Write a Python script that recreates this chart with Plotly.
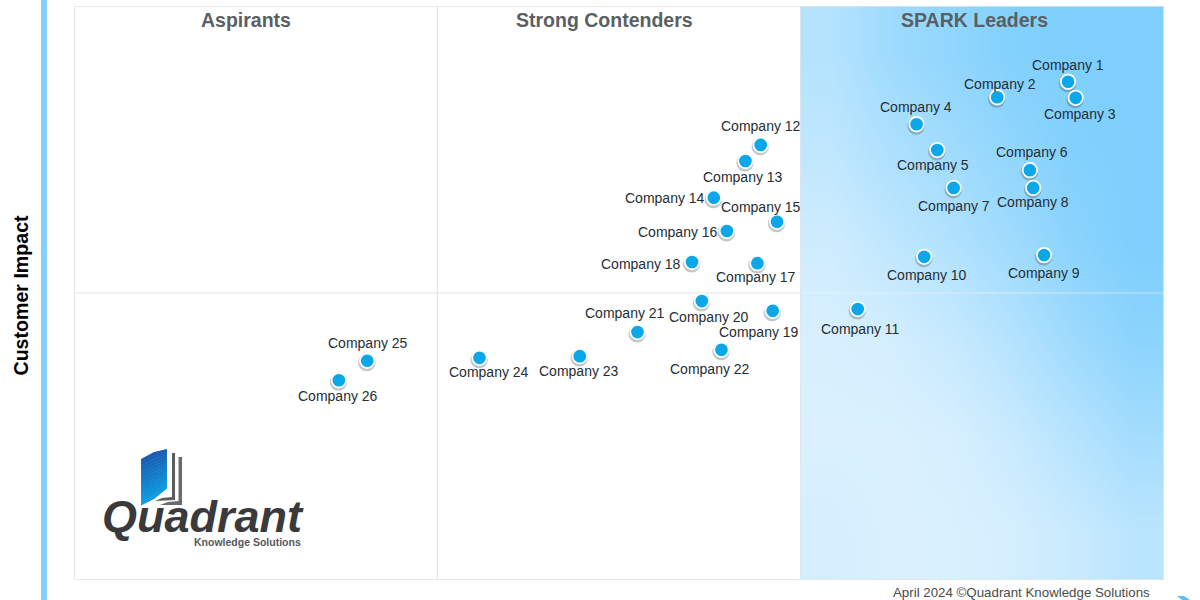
import plotly.graph_objects as go

# ---- data (0-100 scale on both axes) ----
companies = [f"Company {i}" for i in range(1, 27)]
completeness = [91.2, 84.7, 91.9, 77.3, 79.2, 87.7, 80.7, 88.0, 89.0, 78.0, 71.9, 63.0, 61.6,
                58.7, 64.5, 59.9, 62.7, 56.7, 64.1, 57.6, 51.7, 59.4, 46.4, 37.2, 26.9, 24.3]
impact = [86.8, 84.1, 84.0, 79.4, 74.9, 71.4, 68.3, 68.3, 56.6, 56.3, 47.2, 75.8, 73.0,
          66.6, 62.4, 60.8, 55.2, 55.4, 46.9, 48.6, 43.2, 40.1, 39.0, 38.7, 38.2, 34.8]
label_dx = [0, 3, 4, -1, -4, 2, 0, 0, 0, 3, 3, 0, -2, -49, -16, -49, -1, -51, -14, 7, -13, -11, -1, 10, 1, -1]
label_dy = [-17, -13, 16, -17, 15, -18, 18, 14, 18, 18, 20, -19, 16, 0, -15, 1, 14, 2, 21, 16, -19, 19, 15, 14, -18, 16]
quadrants = ["Aspirants", "Strong Contenders", "SPARK Leaders"]
quadrant_x = [15.8, 48.7, 82.6]
leader_shade = [
    [0.42, 0.66, 0.80, 0.95, 1.00, 1.00],
    [0.30, 0.50, 0.64, 0.80, 0.96, 1.00],
    [0.14, 0.30, 0.46, 0.64, 0.86, 1.00],
    [0.05, 0.09, 0.22, 0.42, 0.66, 0.85],
    [0.02, 0.02, 0.06, 0.20, 0.40, 0.60],
    [0.08, 0.02, 0.03, 0.08, 0.20, 0.36],
]
y_title = "Customer Impact"
footer = "April 2024 ©Quadrant Knowledge Solutions"

W, H = 1200, 600
L, R, T, B = 74, 1164, 6, 580
FONT = "Liberation Sans"


def fx(p):
    return (p - L) / (R - L)


def fy(p):
    return (B - p) / (B - T)


def path(points):
    return "M " + " L ".join(f"{fx(a):.4f},{fy(b):.4f}" for a, b in points) + " Z"


fig = go.Figure()

fig.add_trace(go.Heatmap(
    z=leader_shade[::-1], x0=200 / 3 + 100 / 36, dx=100 / 18, y0=100 / 12, dy=100 / 6,
    zsmooth="best", showscale=False, hoverinfo="skip", zmin=0, zmax=1,
    colorscale=[[0, "#DCF1FE"], [1, "#7ECFFD"]],
))

fig.add_trace(go.Scatter(
    x=[v - 0.04 for v in completeness], y=[v - 0.3 for v in impact], mode="markers",
    marker=dict(size=17.5, color="rgba(50,70,80,0.30)"), hoverinfo="skip", showlegend=False,
))
fig.add_trace(go.Scatter(
    x=completeness, y=impact, mode="markers", text=companies,
    marker=dict(size=14.5, color="#0BA7E8", line=dict(color="#FAFDFF", width=1.8)), showlegend=False,
))

annotations = []
for name, x, y, dx, dy in zip(companies, completeness, impact, label_dx, label_dy):
    annotations.append(dict(x=x, y=y, xref="x", yref="y", text=name, showarrow=False, xshift=dx, yshift=-dy,
                            font=dict(family=FONT, size=14, color="#252E35")))
for name, x in zip(quadrants, quadrant_x):
    annotations.append(dict(x=x, y=fy(20), xref="x", yref="paper", yanchor="middle", xanchor="center",
                            text=f"<b>{name}</b>", showarrow=False,
                            font=dict(family=FONT, size=19.5, color="#5A5F63")))
paper = dict(xref="paper", yref="paper", xanchor="center", yanchor="middle", showarrow=False)
annotations += [
    dict(x=fx(20), y=fy(295.5), text=f"<b>{y_title}</b>", textangle=-90,
         font=dict(family=FONT, size=19.6, color="#000000"), **paper),
    dict(x=fx(1021), y=fy(592), text=footer, font=dict(family=FONT, size=13.3, color="#4A4A4A"), **paper),
    dict(x=fx(203), y=fy(516), text="<b><i>Quadrant</i></b>",
         font=dict(family=FONT, size=45, color="#3A3A3C"), **paper),
    dict(x=fx(247), y=fy(542), text="<b>Knowledge Solutions</b>",
         font=dict(family=FONT, size=10.5, color="#58585A"), **paper),
]

line_col = "#E2E4E6"
shapes = [
    dict(type="rect", xref="paper", yref="paper", x0=fx(41), x1=fx(47), y0=fy(600), y1=fy(0),
         fillcolor="#87CFFA", line_width=0, layer="below"),
    dict(type="rect", xref="x", yref="y", x0=0, x1=100, y0=0, y1=100,
         line=dict(color=line_col, width=1.5), layer="above"),
    dict(type="line", xref="x", yref="y", x0=100 / 3, x1=100 / 3, y0=0, y1=100,
         line=dict(color=line_col, width=1.2), layer="below"),
    dict(type="line", xref="x", yref="y", x0=200 / 3, x1=200 / 3, y0=0, y1=100,
         line=dict(color=line_col, width=1.2), layer="below"),
    dict(type="line", xref="x", yref="y", x0=0, x1=200 / 3, y0=50, y1=50,
         line=dict(color=line_col, width=1.2), layer="below"),
    dict(type="line", xref="x", yref="y", x0=200 / 3, x1=100, y0=50, y1=50,
         line=dict(color="rgba(235,245,252,0.6)", width=1.2), layer="above"),
    # logo pages
    dict(type="path", xref="paper", yref="paper",
         path=path([(172, 453), (175, 453), (175, 500), (155, 501), (162, 498), (172, 497)]),
         fillcolor="#5B5C5E", line_width=0),
    dict(type="path", xref="paper", yref="paper",
         path=path([(178.5, 457), (182, 457), (182, 505), (160, 505), (168, 502), (178.5, 501)]),
         fillcolor="#6A6B6D", line_width=0),
    # corner arrow fragment
    dict(type="path", xref="paper", yref="paper",
         path=path([(1177, 596), (1184, 596), (1190, 600), (1182, 600)]),
         fillcolor="#5FC0EA", line_width=0),
]
# logo book cover, blue gradient
steps = 14
dark = (26, 92, 176)
bright = (10, 160, 228)
top_l, bot_l = 459, 505
top_r, bot_r = 449, 488
mid_t, mid_b = (top_l + top_r) / 2 - 2, (bot_l + bot_r) / 2 + 2
for i in range(steps):
    a, b = i / steps, (i + 1) / steps
    c = [round(d + (e - d) * a) for d, e in zip(dark, bright)]
    shapes.append(dict(
        type="path", xref="paper", yref="paper", line_width=0, fillcolor=f"rgb({c[0]},{c[1]},{c[2]})",
        path=path([(141, top_l + (bot_l - top_l) * a), (154, mid_t + (mid_b - mid_t) * a),
                   (167, top_r + (bot_r - top_r) * a),
                   (167, top_r + (bot_r - top_r) * b + 0.4),
                   (154, mid_t + (mid_b - mid_t) * b + 0.4),
                   (141, top_l + (bot_l - top_l) * b + 0.4)]),
    ))

fig.update_layout(
    width=W, height=H, margin=dict(l=L, r=W - R, t=T, b=H - B),
    paper_bgcolor="#FFFFFF", plot_bgcolor="#FFFFFF", showlegend=False,
    annotations=annotations, shapes=shapes,
    font=dict(family=FONT),
    xaxis=dict(range=[0, 100], visible=False, fixedrange=True),
    yaxis=dict(range=[0, 100], visible=False, fixedrange=True),
)
fig.write_html("out.html", config=dict(displayModeBar=False),
               post_script="document.body.style.margin='0';document.documentElement.style.overflow='hidden';")
